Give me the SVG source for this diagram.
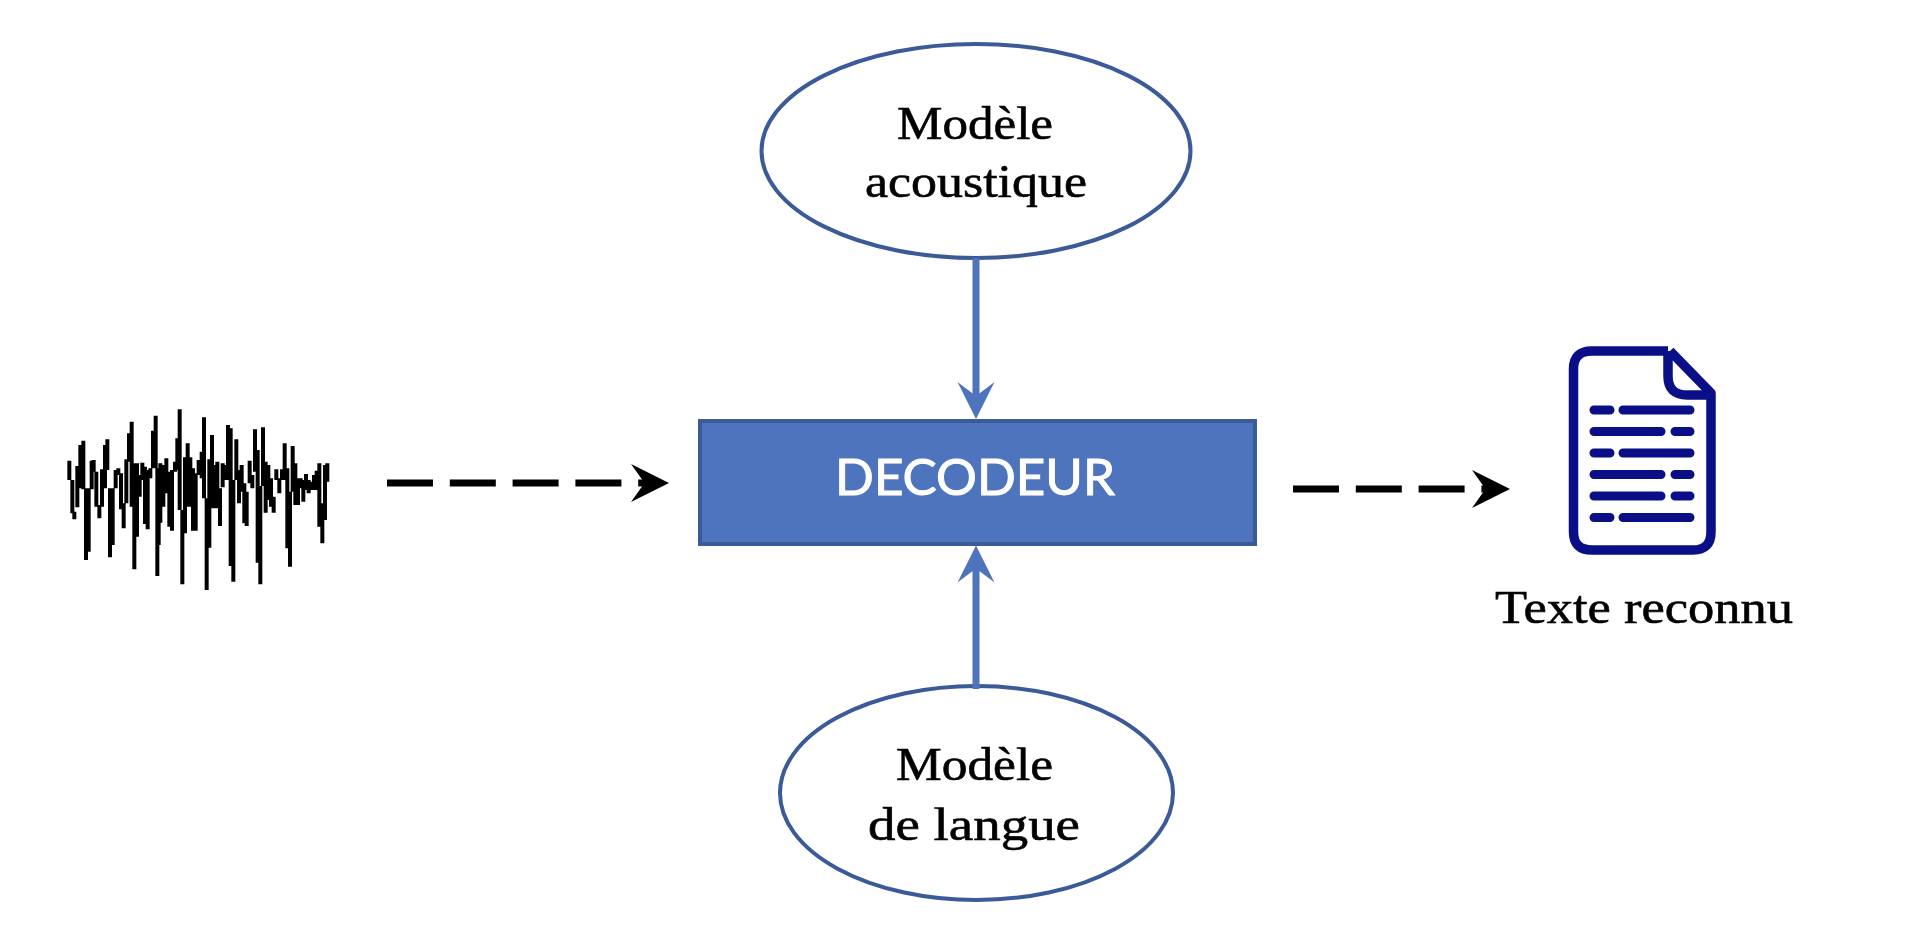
<svg xmlns="http://www.w3.org/2000/svg" width="1912" height="942" viewBox="0 0 1912 942">
<style>
.oval{fill:#fff;stroke:#3b5a98;stroke-width:4}
.lbl{font-family:"Liberation Serif","DejaVu Serif",serif;font-size:47px;fill:#000;stroke:#000;stroke-width:.6;text-anchor:start}
.box{fill:#4e74bd;stroke:#3b5a98;stroke-width:4}
.title{font-family:Lato,"Liberation Sans",sans-serif;font-size:51px;fill:#fff;stroke:#fff;stroke-width:1}
.solid{fill:none;stroke:#4e74bd;stroke-width:7;marker-end:url(#headBlue)}
.dash{fill:none;stroke:#000;stroke-width:7;stroke-dasharray:46 16.8;marker-end:url(#headBlack)}
.doc{fill:none;stroke:#0a0f87;stroke-width:9.500;stroke-linejoin:round}
.rows{fill:none;stroke:#0a0f87;stroke-width:9;stroke-linecap:round}
</style>
<defs>
<marker id="headBlue" markerUnits="userSpaceOnUse" markerWidth="40" markerHeight="40" refX="19" refY="20" orient="auto"><path d="M0 1.5L37 20L0 38.5L14 20Z" fill="#4e74bd"/></marker>
<marker id="headBlack" markerUnits="userSpaceOnUse" markerWidth="40" markerHeight="40" refX="19" refY="20" orient="auto"><path d="M0 1L38 20L0 39L13.500 20Z" fill="#000"/></marker>
</defs>
<rect width="1912" height="942" fill="#fff"/>
<g id="signal"><path transform="translate(50 400) scale(.33333)" fill="none" stroke="#000" stroke-width="12" d="M58 182V240M67 240V340M73 335V358M82 198V322M91 135V265M100 122V268M108 265V480M116 265V455M125 182V268M131 180V215M139 215V320M148 315V355M156 208V320M165 135V265M172 118V210M180 265V472M188 265V435M197 210V265M205 205V225M213 220V328M221 310V385M229 178V310M237 100V185M245 65V320M253 190V508M261 190V410M269 225V290M277 188V240M285 200V372M293 210V388M301 205V235M309 92V205M317 47V205M322 205V528M326 315V435M331 190V368M340 195V320M349 175V280M358 215V380M366 210V392M375 185V215M382 115V210M389 28V330M397 330V553M405 172V400M413 130V320M421 172V320M429 205V392M437 220V392M446 180V225M455 155V235M462 52V295M470 295V570M478 178V443M486 105V325M494 195V325M502 185V325M510 265V378M518 190V262M526 195V240M534 75V240M542 85V498M550 240V545M559 118V240M567 210V310M575 195V275M583 250V370M590 275V378M599 182V250M607 225V265M615 88V215M623 150V488M631 258V553M639 82V258M647 185V338M655 195V300M663 235V320M671 290V338M679 208V240M688 235V280M696 208V240M704 130V240M712 205V445M720 275V500M728 138V275M736 190V315M744 235V315M752 235V265M760 240V305M768 222V270M776 240V280M784 245V270M792 225V270M800 212V270M808 190V380M817 310V430M825 195V360M832 190V245"/></g>
<g id="model-acoustique">
<ellipse class="oval" cx="976" cy="151" rx="214.500" ry="107"/>
<text class="lbl" x="897" y="139" textLength="156" lengthAdjust="spacingAndGlyphs">Modèle</text>
<text class="lbl" x="865" y="197" textLength="222" lengthAdjust="spacingAndGlyphs">acoustique</text>
</g>
<g id="decodeur">
<rect class="box" x="700" y="421" width="555" height="123"/>
<text class="title" x="835" y="495" textLength="280" lengthAdjust="spacingAndGlyphs">DECODEUR</text>
</g>
<g id="model-langue">
<ellipse class="oval" cx="976.500" cy="793" rx="196.500" ry="107"/>
<text class="lbl" x="896" y="780" textLength="157" lengthAdjust="spacingAndGlyphs">Modèle</text>
<text class="lbl" x="868" y="840" textLength="212" lengthAdjust="spacingAndGlyphs">de langue</text>
</g>
<g id="texte-reconnu">
<path class="doc" d="M1668 351H1592Q1573.500 351 1573.500 369V532Q1573.500 550 1592 550H1693Q1711 550 1711 532V393L1670 351"/>
<path class="doc" d="M1668 351V376Q1668 395 1687 395H1711"/>
<path class="rows" d="M1594 410H1610M1623 410H1690M1594 431.500H1661M1675 431.500H1690M1594 453H1610M1623 453H1690M1594 474.500H1661M1675 474.500H1690M1594 496H1661M1675 496H1690M1594 517.500H1610M1623 517.500H1690"/>
<text class="lbl" x="1495" y="623" textLength="298" lengthAdjust="spacingAndGlyphs">Texte reconnu</text>
</g>
<g id="connectors">
<path class="solid" d="M976 258V401"/>
<path class="solid" d="M976 689V563.500"/>
<path class="dash" d="M387 483H650"/>
<path class="dash" d="M1293 489H1491"/>
</g>
</svg>
